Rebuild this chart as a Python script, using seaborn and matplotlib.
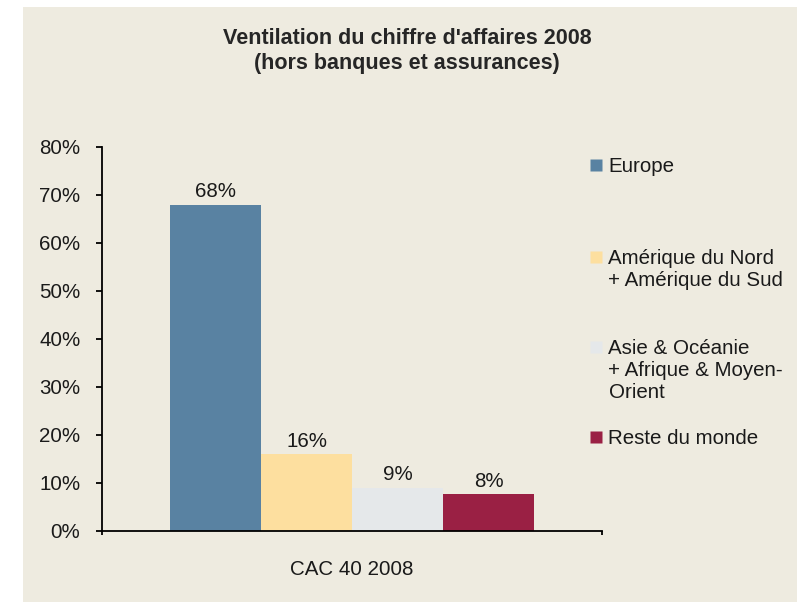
import matplotlib
matplotlib.use("Agg")
import matplotlib.pyplot as plt
import seaborn as sns
import pandas as pd
from matplotlib.patches import Rectangle
from matplotlib.lines import Line2D
from matplotlib.ticker import FuncFormatter

# ---- data ----
category = "CAC 40 2008"
regions = ["Europe",
           "Amérique du Nord\n+ Amérique du Sud",
           "Asie & Océanie\n+ Afrique & Moyen-\nOrient",
           "Reste du monde"]
values = [68.0, 16.0, 9.0, 7.7]
colors = ["#5982A2", "#FDDF9F", "#E5E8EA", "#9A2044"]
yticks = [0, 10, 20, 30, 40, 50, 60, 70, 80]
title = "Ventilation du chiffre d'affaires 2008\n(hors banques et assurances)"

BG = "#EEEBE0"
FS = 14.8

sns.set_theme(style="white")
plt.rcParams["font.family"] = ["Liberation Sans", "DejaVu Sans"]

df = pd.DataFrame({"cat": [category] * len(regions), "region": regions, "value": values})

fig = plt.figure(figsize=(8.03, 6.02), dpi=100, facecolor="white")
fig.patches.append(Rectangle((23 / 803, 0), 774 / 803, 1 - 7 / 602,
                             transform=fig.transFigure, facecolor=BG,
                             edgecolor="none", zorder=-10))

ax = fig.add_axes([102 / 803, 1 - 531 / 602, 500 / 803, (531 - 147) / 602])
ax.set_facecolor(BG)
ax.patch.set_alpha(0)

sns.barplot(data=df, x="cat", y="value", hue="region", hue_order=regions,
            palette=colors, width=0.728, dodge=True, saturation=1,
            legend=False, ax=ax, edgecolor="none", linewidth=0)

ax.set_xlim(-0.5, 0.5)
ax.set_ylim(0, 80)
ax.set_yticks(yticks)
ax.yaxis.set_major_formatter(FuncFormatter(lambda v, p: f"{v:.0f}%"))
ax.set_xlabel("")
ax.set_ylabel("")

for s in ["top", "right"]:
    ax.spines[s].set_visible(False)
for s in ["left", "bottom"]:
    ax.spines[s].set_color("black")
    ax.spines[s].set_linewidth(1.3)

ax.tick_params(axis="y", direction="out", length=4.5, width=1.3, color="black",
               left=True, labelsize=FS, pad=11, labelcolor="#1a1a1a")
ax.set_xticks([0])
ax.set_xticklabels([category])
ax.tick_params(axis="x", which="major", length=0, labelsize=FS, pad=21,
               labelcolor="#1a1a1a")
ax.set_xticks([-0.5, 0.5], minor=True)
ax.tick_params(axis="x", which="minor", direction="out", length=3, width=1.3,
               color="black", bottom=True)

for cont in ax.containers:
    ax.bar_label(cont, labels=[f"{v:.0f}%" for v in cont.datavalues],
                 padding=2.5, fontsize=FS, color="#1a1a1a")

fig.text(407 / 803, 1 - 51 / 602, title, ha="center", va="center",
         fontsize=15.5, fontweight="bold", linespacing=1.3,
         family=["Liberation Sans Narrow", "Liberation Sans", "DejaVu Sans"])

# legend: one entry per slot, placed like the original
tops = [157, 249, 339, 429]
for reg, col, top in zip(regions, colors, tops):
    h = Line2D([], [], linestyle="none", marker="s", markersize=8,
               markerfacecolor=col, markeredgecolor="none")
    leg = fig.legend(handles=[h], labels=[reg], loc="upper left",
                     bbox_to_anchor=(590 / 803, 1 - top / 602),
                     frameon=False, borderpad=0, borderaxespad=0,
                     handlelength=0.6, handleheight=1.05, handletextpad=0.3,
                     fontsize=FS, labelspacing=0)
    for t in leg.get_texts():
        t.set_linespacing(1.2)
        t.set_color("#1a1a1a")
    try:
        for column in leg._legend_handle_box.get_children():
            for item in column.get_children():
                item.align = "top"
    except Exception:
        pass

fig.savefig("out.png", dpi=100, facecolor="white")
